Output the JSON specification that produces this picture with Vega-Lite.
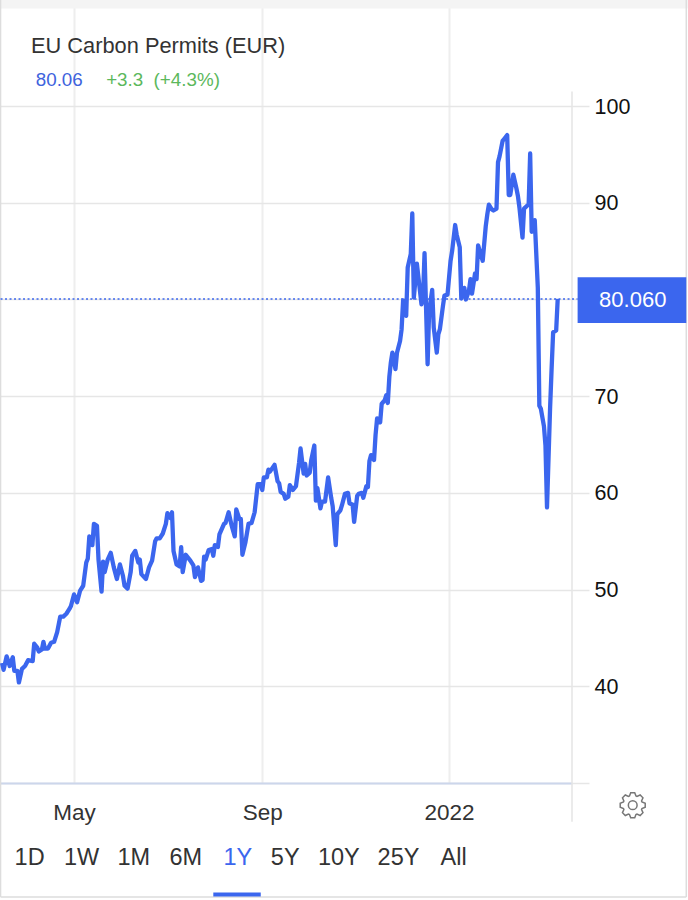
{"$schema":"https://vega.github.io/schema/vega-lite/v6.json","width":572,"height":783,"autosize":"none","padding":{"left":0,"top":0,"right":116,"bottom":117},"background":"white","view":{"stroke":null},"title":{"text":"EU Carbon Permits (EUR)","anchor":"start","frame":"group","orient":"top","dx":31,"offset":-59,"font":"Liberation Sans","fontSize":21.8,"fontWeight":"normal","color":"#333333"},"config":{"font":"Liberation Sans"},"encoding":{"x":{"field":"date","type":"temporal","title":null,"scale":{"type":"utc","domain":["2021-03-13T15:36:00Z","2022-03-22T08:00:00Z"]},"axis":{"values":["2021-05-01","2021-09-01","2022-01-01"],"labelExpr":"utcmonth(datum.value)==0 ? utcFormat(datum.value,'%Y') : utcFormat(datum.value,'%b')","grid":true,"gridColor":"#eeeeee","gridWidth":2,"domainColor":"#ccd6eb","domainWidth":2,"ticks":false,"labelPadding":18,"labelFontSize":22.5,"labelColor":"#333333","labelFont":"Liberation Sans","labelAngle":0}},"y":{"field":"value","type":"quantitative","title":null,"scale":{"domain":[30,110.97],"nice":false,"zero":false},"axis":{"orient":"right","values":[30,40,50,60,70,80,90,100],"labelExpr":"datum.value==30 || datum.value==80 ? '' : datum.label","grid":true,"gridColor":"#e6e6e6","gridWidth":1.5,"domain":false,"tickColor":"#e6e6e6","tickWidth":1.5,"tickSize":17,"labelPadding":5,"labelOffset":1,"labelFontSize":21.5,"labelColor":"#111111","labelFont":"Liberation Sans"}}},"layer":[{"data":{"values":[{"date":"2021-03-13","date2":"2022-06-06","value":110.1,"value2":110.97}]},"mark":{"type":"rect","color":"#f4f4f4"},"encoding":{"x2":{"field":"date2"},"y2":{"field":"value2"}}},{"data":{"values":[{"date":"2021-03-14","value":110.97,"value2":18.2},{"date":"2022-06-05","value":110.97,"value2":18.2}]},"mark":{"type":"rule","color":"#dddddd","strokeWidth":1.5},"encoding":{"y2":{"field":"value2"}}},{"data":{"values":[{"date":"2021-03-14","date2":"2022-06-05","value":18.2}]},"mark":{"type":"rule","color":"#dddddd","strokeWidth":1.5},"encoding":{"x2":{"field":"date2"}}},{"data":{"values":[{"date":"2022-03-22T08:00:00Z","value":101.5,"value2":26}]},"mark":{"type":"rule","color":"#e4e4e4","strokeWidth":1.5},"encoding":{"y2":{"field":"value2"}}},{"data":{"values":[{"date":"2021-03-14","date2":"2022-03-26","value":80.06}]},"mark":{"type":"rule","color":"#3b66ee","strokeWidth":1.5,"strokeDash":[2,2.5]},"encoding":{"x2":{"field":"date2"}}},{"data":{"values":[{"date":"2021-03-15","value":42.4},{"date":"2021-03-16","value":41.7},{"date":"2021-03-18","value":43.1},{"date":"2021-03-20","value":42.1},{"date":"2021-03-22","value":43.0},{"date":"2021-03-23","value":41.6},{"date":"2021-03-25","value":41.6},{"date":"2021-03-26","value":40.4},{"date":"2021-03-28","value":41.8},{"date":"2021-03-30","value":42.1},{"date":"2021-04-01","value":42.7},{"date":"2021-04-04","value":42.6},{"date":"2021-04-05","value":44.4},{"date":"2021-04-07","value":44.0},{"date":"2021-04-08","value":43.6},{"date":"2021-04-10","value":43.8},{"date":"2021-04-11","value":44.6},{"date":"2021-04-12","value":43.9},{"date":"2021-04-14","value":43.9},{"date":"2021-04-16","value":44.5},{"date":"2021-04-18","value":44.6},{"date":"2021-04-20","value":45.6},{"date":"2021-04-22","value":47.2},{"date":"2021-04-24","value":47.2},{"date":"2021-04-26","value":47.5},{"date":"2021-04-28","value":48.0},{"date":"2021-04-29","value":48.3},{"date":"2021-05-01","value":49.5},{"date":"2021-05-03","value":48.7},{"date":"2021-05-05","value":49.9},{"date":"2021-05-07","value":50.4},{"date":"2021-05-09","value":52.8},{"date":"2021-05-10","value":53.2},{"date":"2021-05-11","value":55.5},{"date":"2021-05-13","value":54.6},{"date":"2021-05-14","value":56.8},{"date":"2021-05-16","value":56.6},{"date":"2021-05-17","value":53.1},{"date":"2021-05-19","value":49.8},{"date":"2021-05-20","value":52.9},{"date":"2021-05-21","value":51.8},{"date":"2021-05-23","value":53.1},{"date":"2021-05-25","value":53.8},{"date":"2021-05-27","value":52.3},{"date":"2021-05-29","value":51.1},{"date":"2021-05-31","value":52.6},{"date":"2021-06-02","value":51.4},{"date":"2021-06-03","value":50.4},{"date":"2021-06-05","value":50.1},{"date":"2021-06-07","value":51.8},{"date":"2021-06-08","value":53.5},{"date":"2021-06-10","value":54.0},{"date":"2021-06-12","value":52.8},{"date":"2021-06-13","value":53.1},{"date":"2021-06-14","value":51.6},{"date":"2021-06-17","value":51.1},{"date":"2021-06-19","value":52.3},{"date":"2021-06-21","value":53.0},{"date":"2021-06-23","value":55.0},{"date":"2021-06-24","value":55.3},{"date":"2021-06-26","value":55.3},{"date":"2021-06-28","value":55.8},{"date":"2021-06-30","value":56.8},{"date":"2021-07-01","value":57.9},{"date":"2021-07-03","value":57.4},{"date":"2021-07-04","value":58.0},{"date":"2021-07-05","value":54.0},{"date":"2021-07-07","value":52.6},{"date":"2021-07-09","value":52.4},{"date":"2021-07-10","value":54.4},{"date":"2021-07-11","value":51.8},{"date":"2021-07-13","value":53.6},{"date":"2021-07-16","value":53.0},{"date":"2021-07-18","value":52.5},{"date":"2021-07-19","value":51.3},{"date":"2021-07-21","value":52.3},{"date":"2021-07-23","value":50.9},{"date":"2021-07-24","value":51.0},{"date":"2021-07-25","value":53.4},{"date":"2021-07-26","value":53.1},{"date":"2021-07-28","value":54.1},{"date":"2021-07-30","value":54.2},{"date":"2021-07-31","value":53.5},{"date":"2021-08-01","value":54.6},{"date":"2021-08-03","value":54.4},{"date":"2021-08-04","value":55.7},{"date":"2021-08-07","value":56.8},{"date":"2021-08-08","value":56.9},{"date":"2021-08-10","value":58.0},{"date":"2021-08-12","value":56.6},{"date":"2021-08-14","value":55.5},{"date":"2021-08-15","value":58.3},{"date":"2021-08-17","value":57.3},{"date":"2021-08-18","value":57.3},{"date":"2021-08-19","value":53.6},{"date":"2021-08-21","value":54.9},{"date":"2021-08-23","value":56.8},{"date":"2021-08-25","value":56.9},{"date":"2021-08-27","value":58.0},{"date":"2021-08-29","value":60.9},{"date":"2021-08-30","value":60.9},{"date":"2021-08-31","value":60.9},{"date":"2021-09-01","value":60.3},{"date":"2021-09-02","value":61.6},{"date":"2021-09-04","value":61.6},{"date":"2021-09-05","value":62.4},{"date":"2021-09-06","value":62.2},{"date":"2021-09-09","value":62.9},{"date":"2021-09-11","value":61.2},{"date":"2021-09-12","value":61.0},{"date":"2021-09-13","value":60.1},{"date":"2021-09-15","value":59.9},{"date":"2021-09-16","value":59.4},{"date":"2021-09-18","value":59.6},{"date":"2021-09-19","value":60.8},{"date":"2021-09-21","value":60.3},{"date":"2021-09-23","value":60.7},{"date":"2021-09-25","value":63.1},{"date":"2021-09-26","value":64.6},{"date":"2021-09-28","value":62.0},{"date":"2021-09-29","value":63.0},{"date":"2021-09-30","value":61.8},{"date":"2021-10-02","value":62.1},{"date":"2021-10-03","value":63.4},{"date":"2021-10-05","value":64.9},{"date":"2021-10-06","value":59.2},{"date":"2021-10-07","value":60.5},{"date":"2021-10-09","value":58.4},{"date":"2021-10-10","value":59.1},{"date":"2021-10-12","value":59.1},{"date":"2021-10-14","value":61.6},{"date":"2021-10-16","value":59.5},{"date":"2021-10-17","value":58.6},{"date":"2021-10-19","value":54.6},{"date":"2021-10-20","value":57.8},{"date":"2021-10-22","value":58.2},{"date":"2021-10-23","value":58.7},{"date":"2021-10-25","value":59.9},{"date":"2021-10-27","value":60.0},{"date":"2021-10-28","value":58.9},{"date":"2021-10-30","value":58.8},{"date":"2021-10-31","value":57.0},{"date":"2021-11-02","value":59.7},{"date":"2021-11-03","value":59.9},{"date":"2021-11-05","value":60.0},{"date":"2021-11-06","value":59.5},{"date":"2021-11-08","value":60.7},{"date":"2021-11-09","value":60.6},{"date":"2021-11-10","value":63.3},{"date":"2021-11-11","value":63.9},{"date":"2021-11-13","value":63.4},{"date":"2021-11-14","value":66.0},{"date":"2021-11-15","value":67.7},{"date":"2021-11-17","value":67.3},{"date":"2021-11-18","value":69.2},{"date":"2021-11-20","value":69.6},{"date":"2021-11-21","value":70.1},{"date":"2021-11-22","value":69.3},{"date":"2021-11-23","value":72.0},{"date":"2021-11-24","value":73.5},{"date":"2021-11-25","value":74.5},{"date":"2021-11-27","value":72.8},{"date":"2021-11-28","value":74.5},{"date":"2021-11-30","value":75.7},{"date":"2021-12-01","value":76.9},{"date":"2021-12-02","value":79.9},{"date":"2021-12-04","value":78.3},{"date":"2021-12-05","value":83.3},{"date":"2021-12-07","value":84.7},{"date":"2021-12-08","value":88.9},{"date":"2021-12-09","value":80.2},{"date":"2021-12-11","value":83.7},{"date":"2021-12-12","value":82.3},{"date":"2021-12-14","value":79.5},{"date":"2021-12-15","value":80.2},{"date":"2021-12-16","value":84.8},{"date":"2021-12-18","value":73.3},{"date":"2021-12-19","value":78.8},{"date":"2021-12-21","value":81.0},{"date":"2021-12-22","value":77.1},{"date":"2021-12-24","value":74.5},{"date":"2021-12-25","value":76.4},{"date":"2021-12-26","value":76.9},{"date":"2021-12-28","value":79.3},{"date":"2021-12-29","value":80.4},{"date":"2021-12-31","value":80.5},{"date":"2022-01-02","value":84.0},{"date":"2022-01-03","value":85.0},{"date":"2022-01-05","value":87.7},{"date":"2022-01-06","value":86.7},{"date":"2022-01-08","value":85.4},{"date":"2022-01-09","value":80.1},{"date":"2022-01-11","value":81.2},{"date":"2022-01-12","value":80.0},{"date":"2022-01-14","value":80.9},{"date":"2022-01-15","value":82.1},{"date":"2022-01-16","value":80.6},{"date":"2022-01-18","value":82.7},{"date":"2022-01-19","value":82.1},{"date":"2022-01-20","value":85.6},{"date":"2022-01-22","value":84.5},{"date":"2022-01-23","value":84.0},{"date":"2022-01-25","value":87.6},{"date":"2022-01-26","value":88.8},{"date":"2022-01-27","value":89.8},{"date":"2022-01-29","value":89.3},{"date":"2022-01-30","value":89.2},{"date":"2022-02-01","value":89.4},{"date":"2022-02-02","value":94.2},{"date":"2022-02-03","value":94.8},{"date":"2022-02-05","value":96.4},{"date":"2022-02-06","value":96.6},{"date":"2022-02-08","value":97.0},{"date":"2022-02-09","value":90.8},{"date":"2022-02-10","value":90.8},{"date":"2022-02-12","value":92.9},{"date":"2022-02-14","value":91.5},{"date":"2022-02-15","value":90.7},{"date":"2022-02-16","value":89.5},{"date":"2022-02-18","value":86.4},{"date":"2022-02-19","value":89.4},{"date":"2022-02-21","value":89.7},{"date":"2022-02-22","value":89.8},{"date":"2022-02-23","value":95.1},{"date":"2022-02-24","value":87.0},{"date":"2022-02-26","value":88.2},{"date":"2022-02-27","value":84.7},{"date":"2022-02-28","value":81.2},{"date":"2022-03-01","value":69.0},{"date":"2022-03-02","value":68.7},{"date":"2022-03-04","value":66.9},{"date":"2022-03-05","value":64.9},{"date":"2022-03-06","value":58.5},{"date":"2022-03-08","value":68.7},{"date":"2022-03-09","value":72.8},{"date":"2022-03-10","value":76.6},{"date":"2022-03-12","value":76.8},{"date":"2022-03-13","value":80.06}]},"mark":{"type":"line","color":"#3b66ee","strokeWidth":4.3,"strokeJoin":"round"}},{"data":{"values":[{"date":"2022-03-26","date2":"2022-06-05","value":82.3,"value2":77.56}]},"mark":{"type":"rect","color":"#3b66ee"},"encoding":{"x2":{"field":"date2"},"y2":{"field":"value2"}}},{"data":{"values":[{"date":"2022-05-01","value":79.9,"label":"80.060"}]},"mark":{"type":"text","color":"white","fontSize":22,"align":"center","baseline":"middle"},"encoding":{"text":{"field":"label"}}},{"data":{"values":[{"date":"2021-04-06","value":102.7,"label":"80.06"}]},"mark":{"type":"text","color":"#3e63dd","fontSize":18.8,"align":"left","baseline":"middle"},"encoding":{"text":{"field":"label"}}},{"data":{"values":[{"date":"2021-05-22","value":102.7,"label":"+3.3"},{"date":"2021-06-22","value":102.7,"label":"(+4.3%)"}]},"mark":{"type":"text","color":"#5cb85c","fontSize":18.8,"align":"left","baseline":"middle"},"encoding":{"text":{"field":"label"}}},{"data":{"values":[{"date":"2021-04-02","value":22.24,"label":"1D"},{"date":"2021-05-06","value":22.24,"label":"1W"},{"date":"2021-06-09","value":22.24,"label":"1M"},{"date":"2021-07-13","value":22.24,"label":"6M"},{"date":"2021-09-16","value":22.24,"label":"5Y"},{"date":"2021-10-21","value":22.24,"label":"10Y"},{"date":"2021-11-29","value":22.24,"label":"25Y"},{"date":"2022-01-04","value":22.24,"label":"All"}]},"mark":{"type":"text","color":"#333333","fontSize":23.5,"align":"center","baseline":"middle"},"encoding":{"text":{"field":"label"}}},{"data":{"values":[{"date":"2021-08-16","value":22.24,"label":"1Y"}]},"mark":{"type":"text","color":"#3b66ee","fontSize":23.5,"align":"center","baseline":"middle"},"encoding":{"text":{"field":"label"}}},{"data":{"values":[{"date":"2021-07-31","date2":"2021-08-31","value":18.47}]},"mark":{"type":"rule","color":"#3b66ee","strokeWidth":4},"encoding":{"x2":{"field":"date2"}}},{"data":{"values":[{"date":"2022-05-01","value":27.7}]},"mark":{"type":"point","filled":false,"stroke":"#777777","strokeWidth":1.5,"opacity":1,"size":625,"shape":"M-.26 -.74L-.16 -1L.16 -1L.26 -.74L.339 -.707L.594 -.82L.82 -.594L.707 -.339L.74 -.26L1 -.16L1 .16L.74 .26L.707 .339L.82 .594L.594 .82L.339 .707L.26 .74L.16 1L-.16 1L-.26 .74L-.339 .707L-.594 .82L-.82 .594L-.707 .339L-.74 .26L-1 .16L-1 -.16L-.74 -.26L-.707 -.339L-.82 -.594L-.594 -.82L-.339 -.707Z M.35 0A.35 .35 0 1 1 -.35 0A.35 .35 0 1 1 .35 0Z"}}]}
